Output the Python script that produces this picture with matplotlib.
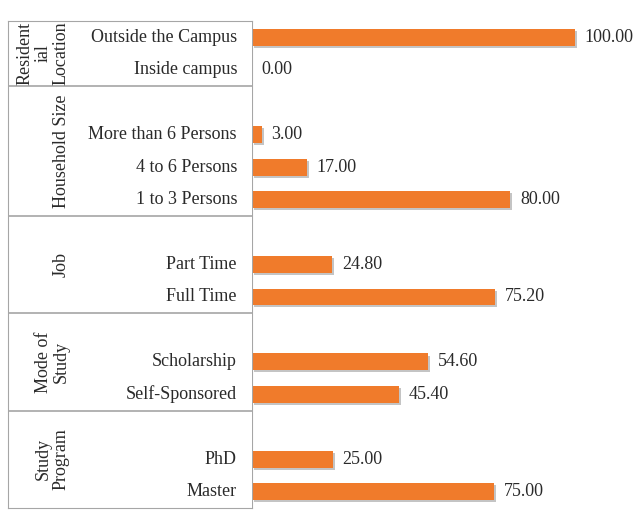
import matplotlib
matplotlib.use("Agg")
import matplotlib.pyplot as plt
import matplotlib.patheffects as pe
import numpy as np

# groups, top to bottom; "" marks a blank slot (as in the source chart)
group_names = ["Resident\nial\nLocation", "Household Size", "Job", "Mode of\nStudy", "Study\nProgram"]
group_cats = [
    ["Outside the Campus", "Inside campus"],
    ["", "More than 6 Persons", "4 to 6 Persons", "1 to 3 Persons"],
    ["", "Part Time", "Full Time"],
    ["", "Scholarship", "Self-Sponsored"],
    ["", "PhD", "Master"],
]
group_vals = [
    [100.00, 0.00],
    [None, 3.00, 17.00, 80.00],
    [None, 24.80, 75.20],
    [None, 54.60, 45.40],
    [None, 25.00, 75.00],
]

plt.rcParams['font.family'] = ['Liberation Serif', 'DejaVu Serif']
W, H = 635, 513
fig = plt.figure(figsize=(W / 100, H / 100), dpi=100)

top, bot = 21, 508
bar_left = 252
ax = fig.add_axes([bar_left / W, 1 - bot / H, 1 - bar_left / W, (bot - top) / H])
axl = fig.add_axes([8 / W, 1 - bot / H, (bar_left - 8) / W, (bot - top) / H], sharey=ax)

cats = [c for g in group_cats for c in g]
vals = [v for g in group_vals for v in g]
n = len(cats)
y = np.arange(n)

orange = "#F07B2B"
line_col = "#A6A6A6"
txt_col = "#2a2a2a"
fs = 13

for yi, v in zip(y, vals):
    if v is None:
        continue
    b = ax.barh(yi, v, height=0.52, color=orange, edgecolor="none")
    for p in b.patches:
        p.set_path_effects([pe.SimplePatchShadow(offset=(1.5, -1.5), shadow_rgbFace="#8a8a8a", alpha=0.5),
                            pe.Normal()])
    ax.text(v + 3, yi, f"{v:.2f}", va="center", ha="left", fontsize=fs, color=txt_col)

ax.set_xlim(0, (W - bar_left) / 3.23)
ax.set_ylim(n - 0.5, -0.5)
for s in ["top", "right", "bottom"]:
    ax.spines[s].set_visible(False)
ax.spines["left"].set_color(line_col)
ax.set_xticks([])
ax.tick_params(left=False, labelleft=False)

# label table
axl.set_xlim(0, bar_left - 8)
for s in ["top", "bottom", "left"]:
    axl.spines[s].set_color(line_col)
axl.spines["right"].set_visible(False)
axl.set_xticks([])
axl.tick_params(left=False, labelleft=False)

start = 0
for name, g in zip(group_names, group_cats):
    end = start + len(g)
    if start > 0:
        axl.axhline(start - 0.5, color=line_col, lw=1.2)
    axl.text(62, (start + end - 1) / 2, name, rotation=90, ha="right", va="center",
             multialignment="center", fontsize=fs, color=txt_col, linespacing=1.1)
    for k, c in enumerate(g):
        if c:
            axl.text(229, start + k, c, ha="right", va="center", fontsize=fs, color=txt_col)
    start = end

fig.savefig("out.png", dpi=100)
